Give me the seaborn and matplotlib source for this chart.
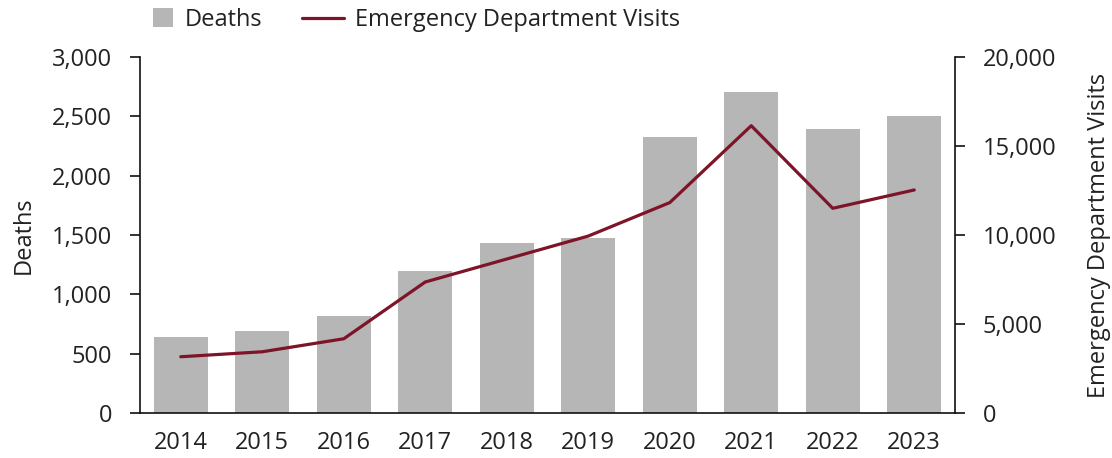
import numpy as np
import pandas as pd
import matplotlib
matplotlib.use("Agg")
import matplotlib.pyplot as plt
import seaborn as sns
from matplotlib.patches import Patch
from matplotlib.lines import Line2D
from matplotlib.ticker import FuncFormatter

years = ["2014", "2015", "2016", "2017", "2018", "2019", "2020", "2021", "2022", "2023"]
deaths = [640, 690, 820, 1200, 1430, 1475, 2330, 2705, 2395, 2505]
ed_visits = [3160, 3440, 4170, 7360, 8650, 9940, 11820, 16140, 11500, 12530]

sns.set_theme(style="white")
plt.rcParams['font.family'] = ['Open Sans', 'DejaVu Sans']

bar_color = "#b6b6b6"
line_color = "#7d1428"
text_color = "#222222"
FS = 17

df = pd.DataFrame({"Year": years, "Deaths": deaths, "Visits": ed_visits})

fig = plt.figure(figsize=(11.12, 4.58), dpi=100)
ax = fig.add_axes([140/1112, 45/458, 815/1112, 356/458])

sns.barplot(data=df, x="Year", y="Deaths", color=bar_color, width=0.665,
            saturation=1, ax=ax, edgecolor="none")
ax.set_xlim(-0.5, 9.5)
ax.set_ylim(0, 3000)
ax.set_yticks(np.arange(0, 3001, 500))
fmt = FuncFormatter(lambda v, p: f"{int(v):,}")
ax.yaxis.set_major_formatter(fmt)
ax.set_xlabel("")
ax.set_ylabel("Deaths", fontsize=FS, color=text_color, labelpad=12)

ax2 = ax.twinx()
sns.lineplot(x=np.arange(len(years)), y=ed_visits, ax=ax2, color=line_color,
             linewidth=2.3)
ax2.set_ylim(0, 20000)
ax2.set_yticks(np.arange(0, 20001, 5000))
ax2.yaxis.set_major_formatter(fmt)
ax2.set_ylabel("Emergency Department Visits", fontsize=FS, color=text_color, labelpad=22)
ax2.set_xlim(-0.5, 9.5)

for a in (ax, ax2):
    for s in a.spines.values():
        s.set_color("#111111")
        s.set_linewidth(1.2)
    a.spines["top"].set_visible(False)
    a.tick_params(axis="y", length=7, width=1.2, color="#111111",
                  labelsize=FS, labelcolor=text_color, pad=13)
    a.tick_params(axis="x", length=0, labelsize=FS, labelcolor=text_color, pad=13)

ax.spines["right"].set_visible(False)
ax2.spines["left"].set_visible(False)
ax2.spines["bottom"].set_visible(False)

leg1 = fig.legend(handles=[Patch(facecolor=bar_color, edgecolor="none", label="Deaths")],
                  loc="center left", bbox_to_anchor=(143.5/1112, 1 - 20/458),
                  frameon=False, fontsize=FS, handlelength=0.85, handleheight=0.85,
                  handletextpad=0.5, labelcolor=text_color, borderaxespad=0)
leg2 = fig.legend(handles=[Line2D([0], [0], color=line_color, linewidth=2.3,
                                  label="Emergency Department Visits")],
                  loc="center left", bbox_to_anchor=(292.5/1112, 1 - 20/458),
                  frameon=False, fontsize=FS, handlelength=1.78,
                  handletextpad=0.47, labelcolor=text_color, borderaxespad=0)

fig.savefig("out.png", dpi=100)
